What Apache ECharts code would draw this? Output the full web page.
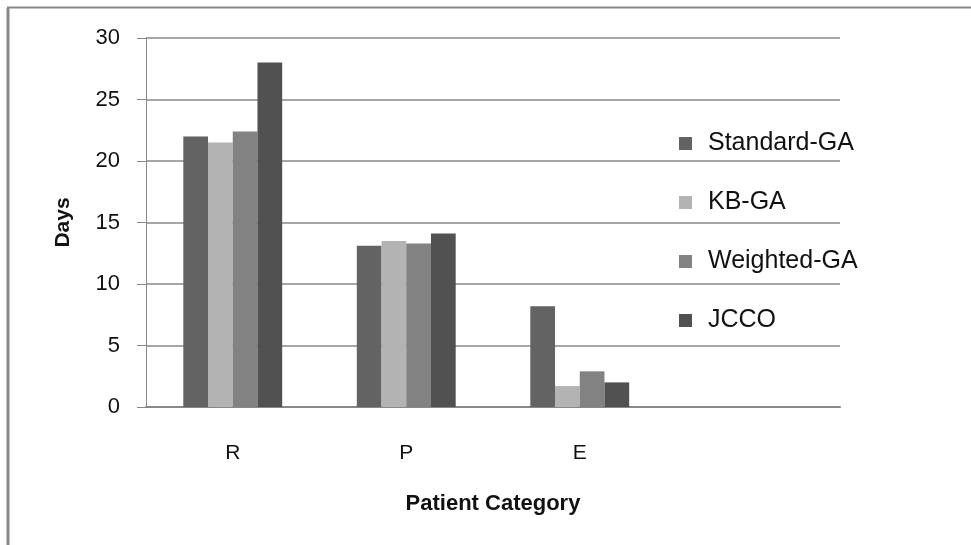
<!DOCTYPE html>
<html>
<head>
<meta charset="utf-8">
<script src="https://cdn.jsdelivr.net/npm/echarts@6/dist/echarts.min.js"></script>
<style>
html,body{margin:0;padding:0;background:#fff;}
#chart{width:971px;height:545px;}
</style>
</head>
<body>
<div id="chart"></div>
<script>
const categories = ['R', 'P', 'E', ''];
const seriesNames = ['Standard-GA', 'KB-GA', 'Weighted-GA', 'JCCO'];
const standardGA = [22, 13.1, 8.2];
const kbGA = [21.5, 13.5, 1.7];
const weightedGA = [22.4, 13.3, 2.9];
const jcco = [28, 14.1, 2];
const yTicks = { min: 0, max: 30, interval: 5 };
const colors = ['#636363', '#b3b3b3', '#828282', '#515151'];
const seriesData = [standardGA, kbGA, weightedGA, jcco];

const chart = echarts.init(document.getElementById('chart'), null, { renderer: 'canvas' });
const font = 'Liberation Sans';
chart.setOption({
  animation: false,
  backgroundColor: '#ffffff',
  color: colors,
  graphic: [
    { type: 'line', shape: { x1: 8, y1: 8, x2: 8, y2: 545 }, style: { stroke: '#888888', lineWidth: 3 } },
    { type: 'line', shape: { x1: 7, y1: 7.5, x2: 971, y2: 7.5 }, style: { stroke: '#888888', lineWidth: 2 } }
  ],
  grid: { left: 146, right: 131, top: 38, bottom: 138, containLabel: false },
  legend: {
    orient: 'vertical',
    left: 674,
    top: 126,
    itemWidth: 13,
    itemHeight: 13,
    itemGap: 34,
    icon: 'rect',
    data: seriesNames,
    textStyle: { fontFamily: font, fontSize: 25, color: '#111', padding: [0, 0, 0, 11] }
  },
  xAxis: {
    type: 'category',
    data: categories,
    name: 'Patient Category',
    nameLocation: 'middle',
    nameGap: 86,
    nameTextStyle: { fontFamily: font, fontSize: 22, fontWeight: 'bold', color: '#111' },
    axisTick: { show: false },
    axisLine: { lineStyle: { color: '#888888', width: 2 } },
    axisLabel: { margin: 36, fontFamily: font, fontSize: 21, color: '#111' }
  },
  yAxis: {
    type: 'value',
    min: yTicks.min,
    max: yTicks.max,
    interval: yTicks.interval,
    name: 'Days',
    nameLocation: 'middle',
    nameGap: 72,
    nameRotate: 90,
    nameTextStyle: { fontFamily: font, fontSize: 21, fontWeight: 'bold', color: '#111' },
    axisLine: { show: true, lineStyle: { color: '#888888', width: 1 } },
    axisTick: { show: true, length: 9, lineStyle: { color: '#888888' } },
    axisLabel: { margin: 26, fontFamily: font, fontSize: 22, color: '#111' },
    splitLine: { lineStyle: { color: '#888888', width: 1.5 } }
  },
  series: seriesNames.map((name, i) => ({
    name: name,
    type: 'bar',
    data: seriesData[i],
    barGap: '0%',
    barCategoryGap: '43%',
    itemStyle: { color: colors[i] }
  }))
});
</script>
</body>
</html>
